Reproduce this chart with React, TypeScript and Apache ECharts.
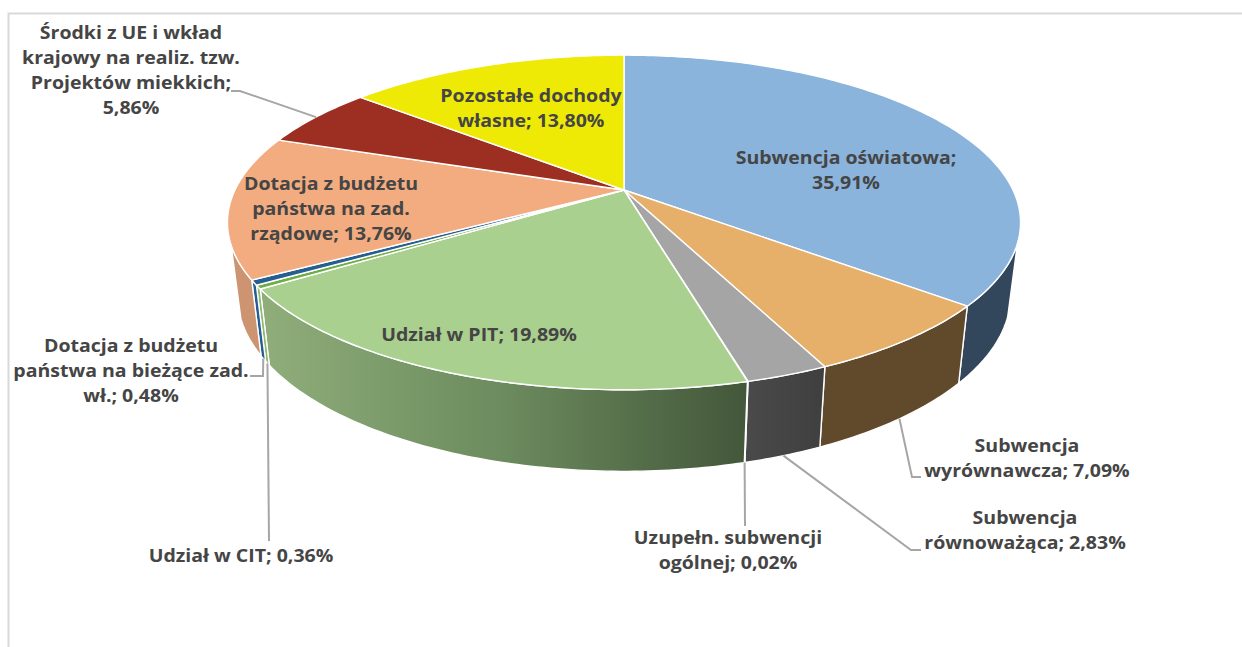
import React, { useEffect, useRef } from "react";
import * as echarts from "echarts";

// ---- data ----
const sliceNames = [
  "Subwencja oświatowa;\n",
  "Subwencja\nwyrównawcza;",
  "Subwencja\nrównoważąca;",
  "Uzupełn. subwencji\nogólnej;",
  "Udział w PIT;",
  "Udział w CIT;",
  "Dotacja z budżetu\npaństwa na bieżące zad.\nwł.;",
  "Dotacja z budżetu\npaństwa na zad.\nrządowe;",
  "Środki z UE i wkład\nkrajowy na realiz. tzw.\nProjektów miekkich;\n",
  "Pozostałe dochody\nwłasne;",
];
const sliceValues = [35.91, 7.09, 2.83, 0.02, 19.89, 0.36, 0.48, 13.76, 5.86, 13.8];

// ---- styles & layout ----
const topColors = ["#8ab4dc", "#e6b06a", "#a5a5a5", "#5b9bd5", "#a9d08e", "#70ad47", "#255e91", "#f2ac7f", "#9c2f22", "#eeea06"];
const wallColors: any[] = [
  "#33475c",
  "#604a2b",
  { type: "linear", x: 0, y: 0, x2: 1, y2: 0, colorStops: [{ offset: 0, color: "#4a4a4a" }, { offset: 1, color: "#3f3f3f" }] },
  "#3f5a2f",
  { type: "linear", x: 0, y: 0, x2: 1, y2: 0, colorStops: [{ offset: 0, color: "#8fae7a" }, { offset: 0.5, color: "#6c8b5e" }, { offset: 1, color: "#43573a" }] },
  "#8fb870",
  "#255e91",
  "#cc9470",
  "#6d2118",
  "#a5a204",
];
const labelCenters: [number, number][] = [
  [846, 170], [1027, 458], [1025, 530], [728, 550], [479, 334],
  [241, 555], [131, 370], [331, 208], [131, 69.5], [531, 108],
];
// leader routes after the rim point (null: label sits on the slice)
const leaderRoutes: ([number, number][] | null)[] = [
  null,
  [[912, 477], [921, 477]],
  [[911, 550], [921, 550]],
  [[745, 526]],
  null,
  [[269, 541]],
  [[263, 376], [250, 376]],
  null,
  [[240, 91], [231, 91]],
  null,
];

const CX = 624, CY = 190, RX = 389, RY = 161, PERSP = 0.194;
const DEPTH_Y = 71, SCALE_X = 0.975, SCALE_Y = 1.053;
const WALL_FROM = (108 / 180) * Math.PI, WALL_TO = (251.3 / 180) * Math.PI;

const total = sliceValues.reduce((a, b) => a + b, 0);
const cumul: number[] = [0];
sliceValues.forEach((v, i) => cumul.push(cumul[i] + v));
const toAngle = (c: number) => (c / total) * Math.PI * 2;

function topPt(a: number): [number, number] {
  const u = Math.sin(a), v = -Math.cos(a), d = 1 - PERSP * v;
  return [CX + (RX * u) / d, CY + (RY * v) / d];
}
function lowPt(p: [number, number]): [number, number] {
  return [CX + (p[0] - CX) * SCALE_X, CY + DEPTH_Y + (p[1] - CY) * SCALE_Y];
}
function arcBetween(a0: number, a1: number): [number, number][] {
  const n = Math.max(2, Math.ceil((a1 - a0) / 0.015));
  const pts: [number, number][] = [];
  for (let k = 0; k <= n; k++) pts.push(topPt(a0 + ((a1 - a0) * k) / n));
  return pts;
}
const pctText = (v: number) => v.toFixed(2).replace(".", ",") + "%";

const FONT = "'Open Sans', 'Noto Sans', sans-serif";

export default function App() {
  const ref = useRef<HTMLDivElement>(null);
  useEffect(() => {
    const chart = echarts.init(ref.current!, undefined, { renderer: "svg" });
    chart.setOption({
      animation: false,
      backgroundColor: "#ffffff",
      graphic: [
        {
          type: "polyline",
          silent: true,
          z: 0,
          shape: { points: [[8.5, 647], [8.5, 13.5], [1242, 13.5]] },
          style: { stroke: "#d9d9d9", lineWidth: 2, fill: "none" },
        },
      ],
      series: [
        {
          type: "custom",
          coordinateSystem: "none",
          z: 1,
          data: sliceValues,
          renderItem: (p: any) => {
            const i = p.dataIndex;
            const a0 = Math.max(toAngle(cumul[i]), WALL_FROM);
            const a1 = Math.min(toAngle(cumul[i + 1]), WALL_TO);
            if (a1 <= a0) return null;
            const top = arcBetween(a0, a1);
            const low = top.map(lowPt).reverse();
            return {
              type: "polygon",
              shape: { points: [...top, ...low] },
              style: { fill: wallColors[i], stroke: "#ffffff", lineWidth: 1.4, lineJoin: "round" },
            };
          },
        },
        {
          type: "custom",
          coordinateSystem: "none",
          z: 2,
          data: sliceValues,
          renderItem: (p: any) => {
            const i = p.dataIndex;
            return {
              type: "polygon",
              shape: { points: [[CX, CY], ...arcBetween(toAngle(cumul[i]), toAngle(cumul[i + 1]))] },
              style: { fill: topColors[i], stroke: "#ffffff", lineWidth: 1.4, lineJoin: "round" },
            };
          },
        },
        {
          type: "custom",
          coordinateSystem: "none",
          z: 3,
          data: sliceValues,
          renderItem: (p: any) => {
            const i = p.dataIndex;
            const route = leaderRoutes[i];
            if (!route) return null;
            const mid = toAngle((cumul[i] + cumul[i + 1]) / 2);
            const rim = topPt(mid);
            const start = i === 8 ? rim : lowPt(rim);
            return {
              type: "polyline",
              shape: { points: [start, ...route] },
              style: { stroke: "#a6a6a6", lineWidth: 2, fill: "none" },
            };
          },
        },
        {
          type: "custom",
          coordinateSystem: "none",
          z: 4,
          data: sliceValues,
          renderItem: (p: any) => {
            const i = p.dataIndex;
            const nm = sliceNames[i];
            const sep = nm.endsWith("\n") ? "" : " ";
            return {
              type: "text",
              x: labelCenters[i][0],
              y: labelCenters[i][1],
              scaleX: 1.085,
              style: {
                text: nm + sep + pctText(sliceValues[i]),
                fill: "#454545",
                fontFamily: FONT,
                fontWeight: 700,
                fontSize: 18,
                lineHeight: 25,
                align: "center",
                verticalAlign: "middle",
              },
            };
          },
        },
      ],
    });
    return () => chart.dispose();
  }, []);
  return <div ref={ref} style={{ position: "fixed", left: 0, top: 0, width: 1242, height: 647 }} />;
}
